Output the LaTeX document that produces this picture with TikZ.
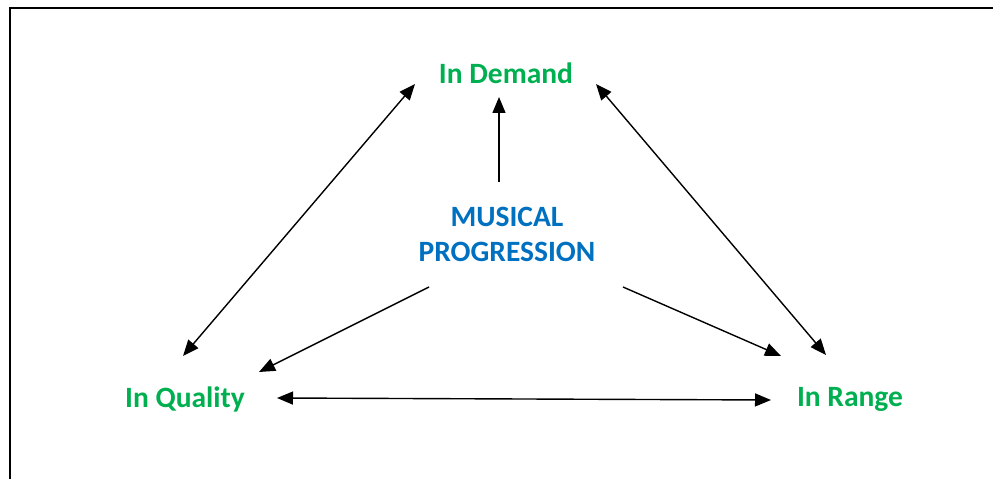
\documentclass[tikz,border=0pt]{standalone}
\usepackage{fontspec}
\setmainfont{Carlito}[BoldFont={Carlito Bold}]
\usepackage{tikz}
\usetikzlibrary{positioning, arrows.meta}
\definecolor{lbgreen}{HTML}{00B050}
\definecolor{lbblue}{HTML}{0070C0}

\begin{document}
\begin{tikzpicture}[x=1pt, y=1pt,
    goal/.style = {text=lbgreen, font=\bfseries\fontsize{29.5}{35}\selectfont, inner sep=0pt, anchor=base},
    hub/.style = {text=lbblue, font=\bfseries\fontsize{29.5}{35}\selectfont, align=center, inner sep=0pt},
    link/.style = {line width=1.4pt, -{Triangle[length=16pt, width=13pt]}},
    both/.style = {line width=1.4pt, {Triangle[length=16pt, width=13pt]}-{Triangle[length=16pt, width=13pt]}}]
            \useasboundingbox (0,0) rectangle (993,479);
            \draw [line width=1.6pt] (10,0) -- (10,471) -- (993,471);
            \node (MP) [hub] at (507,244.5) {MUSICAL\\PROGRESSION};
            \node (ID) [goal] at (506,395) {In Demand};
            \node (IQ) [goal] at (185,71.5) {In Quality};
            \node (IR) [goal] at (850,72.5) {In Range};
            \draw [link] ([shift={(-8,52.5)}]MP.center) -- ([shift={(-7,-13)}]ID.base);
            \draw [link] ([shift={(-78,-52.5)}]MP.center) -- ([shift={(74,35.5)}]IQ.base);
            \draw [link] ([shift={(116,-52.5)}]MP.center) -- ([shift={(-69,50.5)}]IR.base);
            \draw [both] ([shift={(-2,51.5)}]IQ.base) -- ([shift={(-91,0)}]ID.base);
            \draw [both] ([shift={(90,0)}]ID.base) -- ([shift={(-24,51.5)}]IR.base);
            \draw [both] ([shift={(92,9.5)}]IQ.base) -- ([shift={(-79,6.5)}]IR.base);
        \end{tikzpicture}
\end{document}
